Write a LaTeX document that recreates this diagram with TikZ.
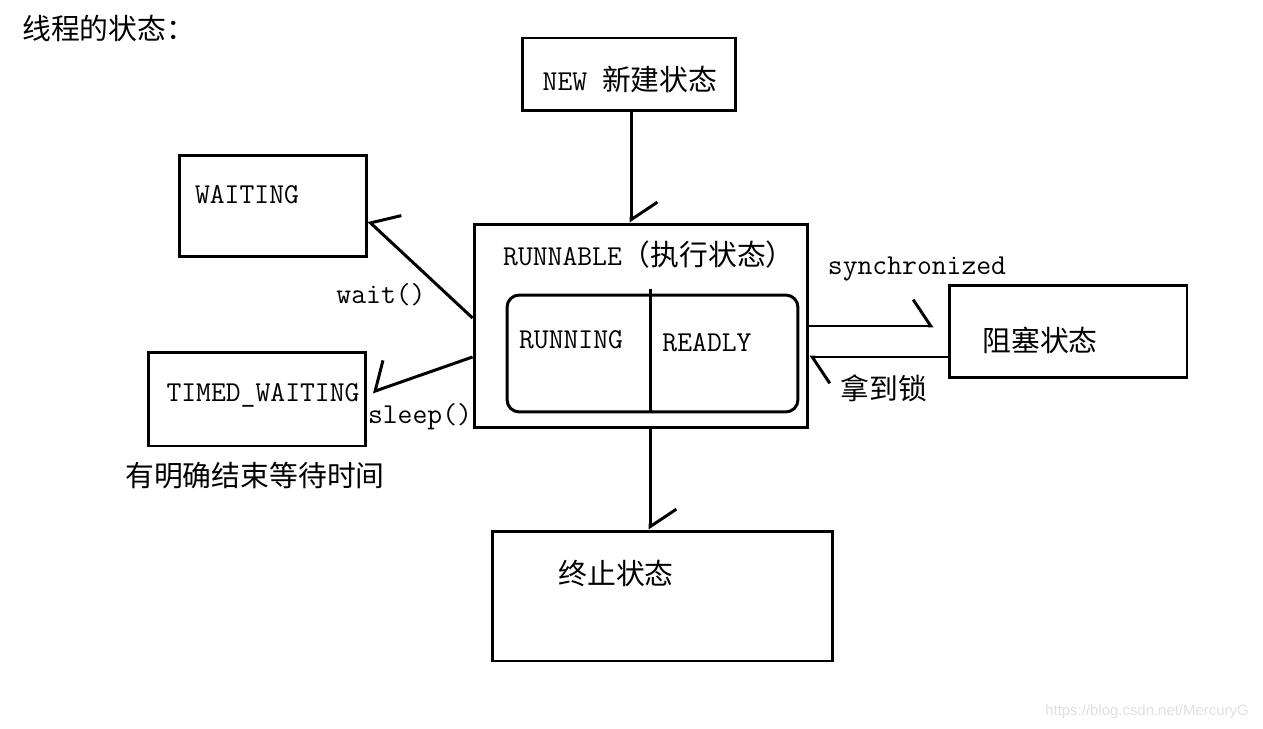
\documentclass[tikz,border=0pt]{standalone}
\usepackage{fontspec}
\newfontfamily\cjk{Noto Sans CJK SC}
\newfontfamily\wmfont{Liberation Sans}
\usetikzlibrary{arrows.meta,calc}
\tikzstyle{state-box}=[draw,line width=1.7pt,inner sep=0pt]
\tikzstyle{inner-box}=[draw,line width=1.7pt,rounded corners=7pt,inner sep=0pt]
\tikzstyle{state-text}=[inner sep=0pt]
\tikzstyle{barb-left}=[line width=1.7pt,-{Straight Barb[left,length=10pt,width=30pt]}]
\tikzstyle{barb-right}=[line width=1.7pt,-{Straight Barb[right,length=10pt,width=30pt]}]

\begin{document}
\begin{tikzpicture}[x=0.02cm,y=-0.02cm,font=\fontsize{16.4}{20}\selectfont\ttfamily]
    \useasboundingbox (0,0) rectangle (1263,729);
    \begin{scope}
        % boxes
        \node[state-box,minimum width=4.28cm,minimum height=1.46cm] at (629,74.5) (new) {};
        \node[state-box,minimum width=3.76cm,minimum height=2.04cm] at (273,206) (waiting) {};
        \node[state-box,minimum width=6.68cm,minimum height=4.08cm] at (641,326) (runnable) {};
        \node[inner-box,minimum width=5.82cm,minimum height=2.34cm] at (652.5,353.5) (inner) {};
        \node[state-box,minimum width=4.76cm,minimum height=1.86cm] at (1068,331.5) (blocked) {};
        \node[state-box,minimum width=4.36cm,minimum height=1.88cm] at (257,399) (timed) {};
        \node[state-box,minimum width=6.82cm,minimum height=2.60cm] at (662.5,596) (stop) {};
        \draw[line width=1.7pt] ($(inner.north -| 650,0)+(0,-5)$) -- (inner.south -| 650,0);

        % texts
        \node[state-text,anchor=west] at (22,28) (title) {\cjk 线程的状态：};
        \node[state-text] at (630,79) (new-text) {NEW {\cjk 新建状态}};
        \node[state-text] at (247,195) (waiting-text) {WAITING};
        \node[state-text] at (649,255) (runnable-text) {RUNNABLE{\cjk （执行状态）}};
        \node[state-text] at (571,340) (running-text) {RUNNING};
        \node[state-text] at (707,343) (ready-text) {READLY};
        \node[state-text] at (1040,340) (blocked-text) {\cjk 阻塞状态};
        \node[state-text] at (263,395) (timed-text) {TIMED\_WAITING};
        \node[state-text] at (616,573) (stop-text) {\cjk 终止状态};
        \node[state-text] at (381,295) (wait-label) {wait()};
        \node[state-text] at (420,417) (sleep-label) {sleep()};
        \node[state-text] at (917,269) (sync-label) {synchronized};
        \node[state-text] at (884,388) (lock-label) {\cjk 拿到锁};
        \node[state-text] at (255,476) (timed-note) {\cjk 有明确结束等待时间};
        \node[state-text,text=black!12] at (1147,712) (mark) {\wmfont\fontsize{8.5}{10}\selectfont https://blog.csdn.net/MercuryG};

        % transitions
        \draw[barb-left] (new.south -| 631,0) -- (runnable.north -| 631,0);
        \draw[barb-right] (runnable.west |- 0,318) -- (waiting.east |- 0,221);
        \draw[barb-right] (runnable.west |- 0,357) -- ($(timed.east |- 0,392)+(5,0)$);
        \draw[barb-left] (runnable.south -| 650,0) -- (stop.north -| 650,0);
        \draw[barb-left] (runnable.east |- 0,326) -- ($(blocked.west |- 0,326)+(-14,0)$);
        \draw[barb-left] (blocked.west |- 0,357) -- (runnable.east |- 0,357);
    \end{scope}
\end{tikzpicture}
\end{document}
